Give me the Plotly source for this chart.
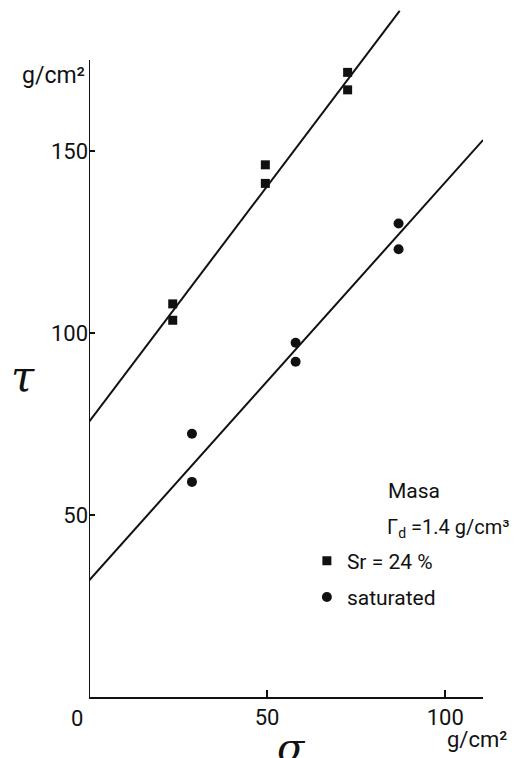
import plotly.graph_objects as go

# --- data ---
sr24_sigma = [23.5, 23.5, 49.5, 49.5, 72.6, 72.6]
sr24_tau = [108.0, 103.5, 146.2, 141.1, 171.6, 166.8]

sat_sigma = [28.9, 28.9, 58.0, 58.0, 86.9, 86.9]
sat_tau = [72.3, 59.1, 97.3, 92.1, 130.1, 123.0]

# fitted straight lines (end points)
sr24_line_sigma = [0.0, 87.2]
sr24_line_tau = [75.6, 188.5]
sat_line_sigma = [0.0, 110.6]
sat_line_tau = [32.0, 153.0]

x_ticks = [50, 100]
y_ticks = [50, 100, 150]
x_max = 110.6
y_axis_top = 175

FONT = "Roboto, Liberation Sans, Arial, sans-serif"
BLACK = "#111111"

fig = go.Figure()

fig.add_trace(go.Scatter(x=sr24_line_sigma, y=sr24_line_tau, mode="lines",
                         line=dict(color=BLACK, width=2), showlegend=False, hoverinfo="skip"))
fig.add_trace(go.Scatter(x=sat_line_sigma, y=sat_line_tau, mode="lines",
                         line=dict(color=BLACK, width=2), showlegend=False, hoverinfo="skip"))

fig.add_trace(go.Scatter(x=sr24_sigma, y=sr24_tau, mode="markers", name="Sr = 24 %",
                         marker=dict(symbol="square", size=9, color=BLACK),
                         legendgroup="a", cliponaxis=False))
fig.add_trace(go.Scatter(x=sat_sigma, y=sat_tau, mode="markers", name="saturated",
                         marker=dict(symbol="circle", size=10, color=BLACK),
                         legendgroup="b", cliponaxis=False))

# y axis line drawn only up to the top of the graph frame
fig.add_shape(type="line", x0=0, x1=0, y0=0, y1=y_axis_top, xref="x", yref="y",
              line=dict(color=BLACK, width=2))

fig.update_layout(
    width=524, height=750,
    margin=dict(l=81, r=49, t=0, b=61, autoexpand=False),
    paper_bgcolor="white", plot_bgcolor="white",
    font=dict(family=FONT, size=21, color=BLACK),
    showlegend=True,
    legend=dict(x=0.553, y=0.227, xanchor="left", yanchor="top",
                bgcolor="rgba(0,0,0,0)", font=dict(size=21),
                traceorder="grouped", tracegroupgap=6, itemwidth=30),
    xaxis=dict(range=[0, x_max], showgrid=False, zeroline=False,
               showline=True, linecolor=BLACK, linewidth=2,
               tickvals=x_ticks, ticks="inside", ticklen=7, tickwidth=1.5,
               tickcolor=BLACK, tickfont=dict(size=22), automargin=False),
    yaxis=dict(range=[0, 689 / 3.64], showgrid=False, zeroline=False,
               showline=False,
               tickvals=y_ticks, ticks="inside", ticklen=6, tickwidth=1.5,
               tickcolor=BLACK, tickfont=dict(size=22), automargin=False),
)

ann = [
    dict(text="0", x=0, y=0, xref="x", yref="y", xanchor="center", yanchor="top",
         xshift=-12, yshift=-7, font=dict(size=22)),
    dict(text="g/cm²", x=0, y=(697 - 75) / 3.64, xref="paper", yref="y",
         xanchor="right", yanchor="middle", xshift=-2, font=dict(size=23)),
    dict(text="<i>τ</i>", x=0, y=(697 - 376) / 3.64, xref="paper", yref="y",
         xanchor="center", yanchor="middle", xshift=-66, font=dict(size=42, family="DejaVu Serif")),
    dict(text="<i>σ</i>", x=50, y=0, xref="x", yref="y",
         xanchor="center", yanchor="top", xshift=24, yshift=-25, font=dict(size=40, family="DejaVu Serif")),
    dict(text="g/cm²", x=1, y=0, xref="paper", yref="y",
         xanchor="right", yanchor="middle", xshift=26, yshift=-42, font=dict(size=22)),
    dict(text="Masa", x=(386 - 89) / 394, y=(697 - 491) / 3.64, xref="paper", yref="y",
         xanchor="left", yanchor="middle", font=dict(size=21)),
    dict(text="Γ<sub>d</sub> =1.4 g/cm³", x=(385 - 89) / 394, y=(697 - 528) / 3.64,
         xref="paper", yref="y", xanchor="left", yanchor="middle", font=dict(size=20)),
]
for a in ann:
    a["showarrow"] = False
fig.update_layout(annotations=ann)

fig.write_html("out.html")
